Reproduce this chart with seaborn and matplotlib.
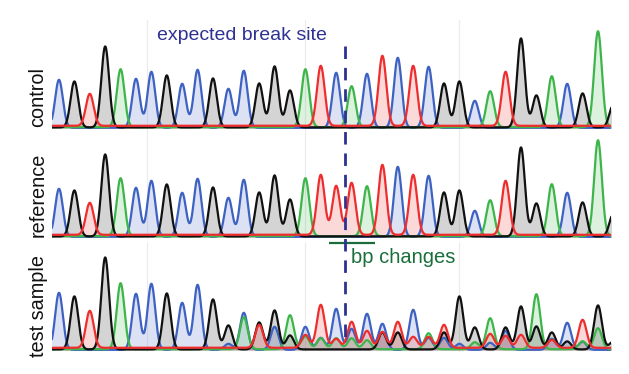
import numpy as np
import pandas as pd
import matplotlib
matplotlib.use("Agg")
import matplotlib.pyplot as plt
import seaborn as sns

# ---------------- data ----------------
channels = ["C", "A", "G", "T"]           # drawing order
palette = {"A": "#3db54a", "C": "#3d62c2", "G": "#111111", "T": "#ee2e2e"}

control_calls = "CGTGACCGCCGCCGGGA" + "TCAC" + "TCTCGGCATGGACGAG"
control_heights = [48, 46, 32, 81, 58, 49, 56, 52, 44, 58, 49, 39, 57, 44, 61, 37,
                   58, 60, 55, 41, 54, 70, 70, 60, 61, 44, 46, 27, 36, 54, 89, 32,
                   51, 44, 34, 96, 23]

reference_calls = "CGTGACCGCCGCCGGGA" + "TTTA" + "TCTCGGCATGGACGAG"
reference_heights = [48, 46, 32, 82, 58, 49, 56, 52, 44, 58, 49, 39, 57, 44, 61, 37,
                     58, 60, 49, 52, 50, 70, 70, 60, 61, 44, 46, 26, 36, 54, 89, 33,
                     52, 44, 34, 96, 23]

test_A = [0, 0, 0, 0, 66, 0, 0, 0, 0, 0, 0, 0, 32, 0, 0, 34, 13, 11, 11, 11, 9, 0, 0, 0,
          16, 0, 0, 7, 31, 0, 0, 55, 0, 0, 8, 21, 0]
test_C = [57, 0, 0, 0, 0, 56, 66, 0, 47, 65, 0, 6, 37, 0, 23, 0, 23, 12, 41, 21, 36, 26,
          0, 40, 12, 12, 6, 0, 7, 19, 0, 0, 11, 27, 8, 0, 0]
test_G = [0, 53, 0, 92, 0, 0, 0, 56, 0, 0, 50, 24, 0, 27, 39, 14, 0, 0, 0, 0, 0, 17, 17,
          0, 0, 17, 53, 22, 0, 22, 43, 23, 17, 8, 0, 44, 8]
test_T = [0, 0, 37, 0, 0, 0, 0, 0, 0, 0, 0, 0, 0, 23, 0, 0, 13, 43, 9, 26, 17, 16, 26,
          11, 11, 23, 0, 0, 14, 12, 13, 0, 8, 0, 28, 0, 0]

panel_labels = ["control", "reference", "test sample"]
break_site = 18.57          # base position of the expected break
bp_change_span = (17.5, 20.5)
grid_positions = [5.7, 16.0, 26.0]

# ---------------- helpers ----------------
SIGMA = 0.25
background = {"A": 0.8, "C": 0.2, "G": 0.6, "T": 2.2}
xgrid = np.arange(-0.5, 36.6, 0.02)


def calls_to_channels(calls, heights):
    out = {b: np.zeros(len(calls)) for b in channels}
    for i, (b, h) in enumerate(zip(calls, heights)):
        out[b][i] = h
    return out


def traces(chan_heights):
    rows = []
    for b in channels:
        h = np.asarray(chan_heights[b], dtype=float)
        pos = np.arange(len(h))
        y = (h[:, None] * np.exp(-(xgrid[None, :] - pos[:, None]) ** 2 / (2 * SIGMA ** 2))).sum(0)
        y = y + background[b]
        rows.append(pd.DataFrame({"pos": xgrid, "signal": y, "base": b}))
    return pd.concat(rows, ignore_index=True)


panels = [
    calls_to_channels(control_calls, control_heights),
    calls_to_channels(reference_calls, reference_heights),
    {"A": test_A, "C": test_C, "G": test_G, "T": test_T},
]

# ---------------- figure ----------------
sns.set_theme(style="white")
plt.rcParams["font.family"] = ["Liberation Sans", "DejaVu Sans"]

W, H = 629, 374
fig = plt.figure(figsize=(W / 100, H / 100), dpi=100)

left_px, right_px = 52, 611
xmin = (left_px - 59) / 15.4
xmax = (right_px - 59) / 15.4
baselines_px = [128, 237, 350]
label_centers_px = [97, 195, 306]

for k, (chan, label) in enumerate(zip(panels, panel_labels)):
    bottom = baselines_px[k] + 2
    ax = fig.add_axes([left_px / W, 1 - bottom / H, (right_px - left_px) / W, 110 / H])
    ax.set_facecolor("none")
    df = traces(chan)
    for gx in grid_positions:
        ax.axvline(gx, color="#ebebeb", lw=0.8, zorder=0)
    for b in channels:
        sub = df[df["base"] == b]
        ax.fill_between(sub["pos"], 0, sub["signal"], color=palette[b], alpha=0.18,
                        lw=0, zorder=1)
    sns.lineplot(data=df, x="pos", y="signal", hue="base", hue_order=channels,
                 palette=palette, estimator=None, sort=False, legend=False,
                 lw=1.6, ax=ax, zorder=2)
    ax.set_xlim(xmin, xmax)
    ax.set_ylim(-2, 108)
    ax.set_xticks([])
    ax.set_yticks([])
    ax.set_xlabel("")
    ax.set_ylabel("")
    for s in ax.spines.values():
        s.set_visible(False)
    ycen = (bottom - label_centers_px[k]) / 110
    ax.text(-0.025, ycen, label, rotation=90, ha="center", va="center",
            fontsize=14.3, color="#111111", transform=ax.transAxes)

# overlay for annotations
ov = fig.add_axes([left_px / W, 0, (right_px - left_px) / W, 1])
ov.set_facecolor("none")
ov.set_xlim(xmin, xmax)
ov.set_ylim(H, 0)
ov.set_axis_off()
ov.vlines(break_site, 46, 342, colors="#2e3192", lw=2.0, linestyles=(0, (4.5, 3.2)),
          zorder=10)
ov.annotate("expected break site", xy=(break_site, 35), xytext=(-13, 0),
            textcoords="offset points", ha="right", va="center", fontsize=14,
            color="#2e3192")
ov.hlines(243, bp_change_span[0], bp_change_span[1], colors="#1b6e3c", lw=1.6, zorder=9)
ov.annotate("bp changes", xy=(break_site, 263), xytext=(4.5, 0),
            textcoords="offset points", ha="left", va="baseline", fontsize=14.5,
            color="#1b6e3c")

fig.savefig("out.png", dpi=100)
